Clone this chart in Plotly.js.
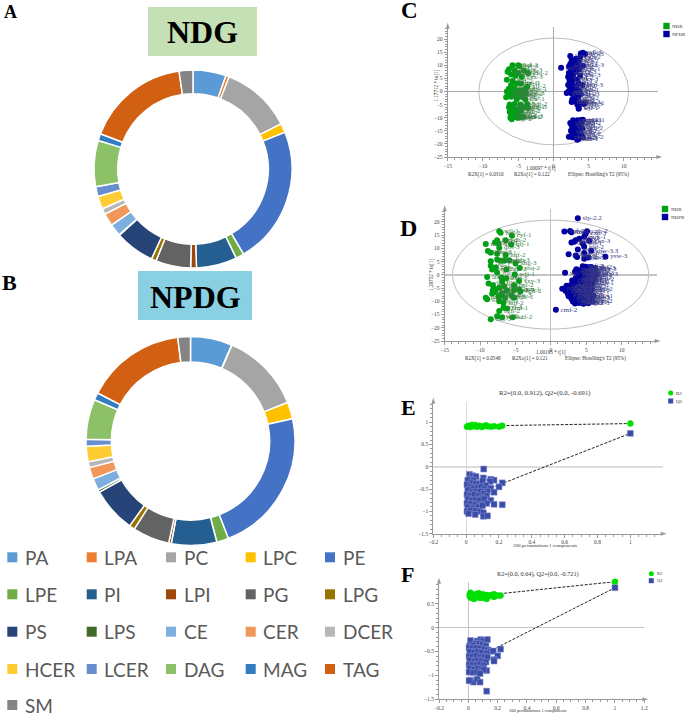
<!DOCTYPE html>
<html>
<head>
<meta charset="utf-8">
<script src="https://cdn.plot.ly/plotly-3.0.1.min.js"></script>
<style>html,body{margin:0;padding:0;background:#fff}</style>
</head>
<body>
<div id="chart" style="width:685px;height:715px"></div>
<script>
// lipid classes, share of each in the two donuts
const lipidClasses = ['PA','LPA','PC','LPC','PE','LPE','PI','LPI','PG','LPG','PS','LPS','CE','CER','DCER','HCER','LCER','DAG','MAG','TAG','SM'];
const lipidColors = ['#5B9BD5','#ED7D31','#A5A5A5','#FFC000','#4472C4','#70AD47','#255E91','#9E480E','#636363','#997300','#264478','#43682B','#7CAFDD','#F1975A','#B7B7B7','#FFCD33','#698ED0','#8CC168','#327DC2','#D26012','#848484'];
const ndgValues = [5.4,0.55,11.5,1.5,22.5,1.35,6.6,0.95,5.7,0.8,6.45,0.08,2.0,2.05,0.95,2.1,1.6,7.5,1.15,16.95,2.25];
const npdgValues = [6.45,0.05,12.5,2.6,22.5,1.85,7.0,0.4,5.7,0.85,6.95,0.4,1.85,1.8,0.9,2.4,1.05,6.2,1.15,15.45,1.95];

// OPLS-DA scores, [t1, to1, optional readable label]
const scoresC_NDR = [[-5.8,10],[-5,10],[-4.8,9.7],[-6.3,8.5],[-6.5,7.5],[-5.5,8],[-4.2,8,'qsj-3'],[-3.6,7],[-5,7],[-6,6.5],[-5.4,6],[-4.5,5.5],[-6.6,4.5],[-5.8,4],[-4.6,3],[-5.2,3],[-6,2.5],[-3.7,1.8,'xjf-2'],[-4,1],[-6.3,1],[-5.5,1],[-4.8,0.5],[-6.6,0],[-5.8,-0.3],[-5,-0.5],[-4.3,-1],[-3.9,-0.7],[-6.4,-1],[-5.4,-1.5],[-6.7,-2.2],[-6,-2],[-4.6,-2],[-5.2,-3],[-4,-3],[-6.2,-5],[-5.5,-4.8],[-4.7,-5],[-3.7,-4.8],[-3.6,-6.2],[-4.2,-6],[-6.3,-6],[-5.7,-6.5],[-5,-6.8],[-4.6,-7.5],[-6.2,-7.8],[-5.5,-8],[-5,-8.5],[-6,-9],[-6.1,-10],[-5.9,-10.6],[-5.1,-10],[-4.8,-9.8],[-4.5,-9.8],[-4.2,-9.6,'lya-3'],[-5.5,-9.5]];
const scoresC_NPDR = [[4.2,14.8],[3.9,14.5],[4.5,14.3],[2.4,13.5],[3.8,13],[3.2,12.5],[2.6,12],[3.6,11.5],[2.9,11],[2.4,10.5],[3.5,10],[4.2,9.8],[2.2,9.5],[1.1,9],[3,9],[3.7,8.5],[2.5,8],[3.2,7.5],[2.2,7],[2.8,6.5],[3.8,6],[2.1,5.5],[2.9,5],[3.4,4.5],[2.3,4],[2.7,3],[3.6,3],[2.1,2.5],[3,2],[4.1,2.5],[2.4,1.5],[3.3,1],[2.8,0.5],[3.7,0.3],[2.2,0.2],[1.9,-0.6],[2.6,-0.8],[3.3,-1],[3.9,-1],[3,-2],[3.5,-2.5],[2.9,-3.2],[2.6,-4],[3.1,-3.8],[3.8,-4.2],[4.5,-4.4],[3.4,-5],[3.6,-6.2],[3.6,-6.6],[2.7,-3],[4.3,-4.8],
  [2.8,-11],[3.4,-11],[3.9,-10.9],[4.2,-10.8],[2.4,-12],[3,-12],[3.6,-11.8],[4,-12],[2.6,-13],[3.3,-13],[3.9,-13.2],[2.8,-14],[3.4,-14.3],[4.1,-14.2],[2.5,-15],[3.1,-15.3],[3.8,-15.5],[2.7,-16],[3.3,-16.5],[4,-16.5],[2.2,-17.3],[2.7,-17.5],[3.2,-17.8],[3.6,-18],[3.4,-18.4],[4.2,-17.5]];
const scoresD_NDR = [[-7.3,16.5],[-7.1,15.9],[-5.5,14.8,'cyf-1'],[-7.6,13.1],[-6.4,13.1],[-5.6,11.5,'qfj-1'],[-9.2,11.7],[-7.9,12.2],[-7.3,10.3],[-7.4,11.9],[-8.9,9],[-8.5,8.4],[-7.6,8],[-6.4,7.4],[-8.5,5.2],[-7.6,5.8],[-7.1,5.3],[-5.9,5.5],[-6.6,5.3],[-5,4.4,'xhg-3'],[-4.4,2.6,'sbq-2'],[-8.5,3.5],[-8.3,2],[-7.8,2.8],[-7.6,0.9],[-6.3,2],[-5.1,0.1,'wfj-1'],[-9,-0.8],[-7,-1],[-6.3,-1.3],[-4.5,-2.3,'xxy-3'],[-8.8,-3.3],[-8.2,-3.9],[-6.9,-2.6],[-5.2,-3.9],[-7.8,-5.4],[-8.2,-5.8],[-6.6,-4.3],[-7.3,-4.9],[-4.5,-5.5],[-4.3,-6.2],[-5.2,-5.8],[-8.3,-7.1],[-7.4,-8.3],[-5.6,-7.7],[-5.2,-8.6],[-9.2,-8.6],[-9,-9.2],[-7.3,-10],[-6.7,-10.6],[-6.7,-12.4],[-6.2,-12.7],[-7.3,-13.7],[-7.6,-15.6],[-6.9,-16],[-5.4,-16,'kcf-2'],[-8.5,-16.8],[-7.9,-6.6],[-6.9,-6.9],[-6.2,-6],[-7.1,-7.7],[-6.5,-8.6]];
const scoresD_NPDR = [[3.8,21.4,'slp-2.2'],[1.9,16.4],[2.7,16.6],[2.9,16.1],[5.1,16.5],[4.9,15.6],[4.7,14.4],[4,13.7],[3.5,13.1],[2.9,12.2],[3.3,12.5],[5.4,12.9],[4.5,11.9],[4.7,10.6],[3.8,9.6],[5.7,9.1,'shw-3.3'],[4.7,8.3],[2.5,7.8],[3.5,7.3],[3.7,6.8],[4.7,6.1],[5.3,6.6],[7.7,6.9,'ysw-3'],[0.7,-13.2,'cmf-2'],[2,0.8],
  [4.5,3.3],[4.9,3.1],[5.3,2.9],[5.7,3],[6.2,2.6],[3.6,2.1],[4.1,1.8],[4.6,2.2],[5.1,2],[5.6,1.7],[6.3,2.1],[3.4,1.2],[3.9,0.8],[4.4,1.1],[5,0.9],[5.5,1.2],[6,0.7],[3.8,-0.1],[4.3,0.2],[4.8,-0.2],[5.4,0.1],[5.9,-0.3],[6.5,0.2],[3.5,-1.2],[4.1,-0.9],[4.6,-1.1],[5.2,-1.3],[5.7,-0.8],[3,-2.1],[3.7,-1.8],[4.4,-2.2],[5,-1.9],[5.6,-2.3],[6.2,-1.8],[3.2,-3.1],[3.9,-2.8],[4.7,-3.2],[5.3,-2.9],[5.9,-3.3],[2.2,-4.1],[2.8,-3.8],[3.5,-4.2],[4.2,-3.9],[4.9,-4.3],[5.5,-4],[1.6,-5.2],[2.4,-4.9],[3.1,-5.3],[3.8,-5],[4.5,-5.2],[5.2,-4.9],[5.8,-5.3],[2.1,-6.1],[2.8,-5.8],[3.5,-6.2],[4.3,-6],[5,-6.2],[5.6,-5.9],[2.4,-7.1],[3.1,-6.9],[3.9,-7.2],[4.6,-7],[5.3,-7.3],[2.5,-8.1],[3.2,-7.8],[4,-8.2],[4.7,-7.9],[5.4,-8.3],[6,-7.9],[2.9,-9],[3.6,-9.2],[4.3,-8.9],[5,-9.2],[5.7,-8.9],[3.1,-10.1],[3.8,-9.9],[4.5,-10.2],[5.2,-9.9],[5.9,-10.1],[3.4,-10.8],[4,-10.6],[4.6,-10.9],[5.3,-10.7]];
const sampleCodes = ['wjl','hqf','syj','lzm','cgh','zxh','mrk','yfq','dbs','tjw','pnl','gkx'];

// permutation tests
const permE_R2 = [[0.005,0.9],[0.015,0.92],[0.025,0.89],[0.035,0.94],[0.045,0.91],[0.055,0.94],[0.065,0.9],[0.08,0.92],[0.095,0.89],[0.105,0.91],[0.12,0.93],[0.13,0.91],[0.15,0.9],[0.17,0.91],[0.2,0.9],[0.22,0.92],[1,0.97]];
const permE_Q2 = [[0.107,-0.05],[0.02,-0.17],[0.04,-0.2],[0.06,-0.22],[0.105,-0.25],[0.025,-0.27],[0.045,-0.3],[0.15,-0.28],[0.17,-0.3],[0.145,-0.33],[0.22,-0.36],[0.01,-0.3],[0.03,-0.36],[0.06,-0.37],[0.08,-0.38],[0.1,-0.32],[0.2,-0.45],[0.12,-0.42],[0.15,-0.48],[0.005,-0.4],[0.025,-0.45],[0.045,-0.48],[0.07,-0.47],[0.09,-0.45],[0.11,-0.5],[0.17,-0.57],[0.01,-0.52],[0.035,-0.57],[0.06,-0.55],[0.085,-0.55],[0.13,-0.55],[0.105,-0.6],[0.005,-0.62],[0.025,-0.65],[0.05,-0.62],[0.075,-0.65],[0.125,-0.65],[0.095,-0.7],[0.15,-0.75],[0.01,-0.72],[0.035,-0.75],[0.06,-0.73],[0.08,-0.75],[0.11,-0.72],[0.005,-0.82],[0.03,-0.82],[0.055,-0.85],[0.09,-0.85],[0.125,-0.82],[0.17,-0.84],[0.22,-0.85],[0.01,-0.9],[0.04,-0.93],[0.075,-0.9],[0.1,-0.87],[0.005,-1.0],[0.025,-0.98],[0.06,-0.98],[0.085,-1.0],[0.105,-1.03],[0.015,-1.05],[0.055,-1.07],[0.105,-1.11],[0.13,-1.1],[1,0.75]];
const permF_R2 = [[0.015,0.73],[0.01,0.65],[0.02,0.62],[0.03,0.68],[0.04,0.6],[0.05,0.7],[0.06,0.64],[0.07,0.72],[0.08,0.62],[0.09,0.68],[0.1,0.7],[0.105,0.62],[0.12,0.66],[0.125,0.6],[0.14,0.66],[0.155,0.68],[0.175,0.64],[0.175,0.7],[0.2,0.67],[0.22,0.67],[0.01,0.7],[0.04,0.66],[0.07,0.66],[0.1,0.65],[0.125,0.68],[1,0.96]];
const permF_Q2 = [[0.015,-0.27],[0.06,-0.28],[0.085,-0.25],[0.1,-0.28],[0.13,-0.25],[0.05,-0.33],[0.075,-0.33],[0.01,-0.38],[0.03,-0.37],[0.095,-0.36],[0.12,-0.38],[0.005,-0.42],[0.03,-0.43],[0.055,-0.42],[0.08,-0.43],[0.11,-0.45],[0.135,-0.47],[0.15,-0.5],[0.17,-0.49],[0.22,-0.45],[0.01,-0.5],[0.04,-0.52],[0.065,-0.5],[0.09,-0.52],[0.125,-0.54],[0.2,-0.59],[0.175,-0.67],[0.175,-0.7],[0.005,-0.6],[0.03,-0.6],[0.055,-0.58],[0.08,-0.62],[0.11,-0.6],[0.13,-0.62],[0.01,-0.68],[0.04,-0.7],[0.065,-0.68],[0.09,-0.7],[0.12,-0.72],[0.005,-0.78],[0.03,-0.77],[0.055,-0.78],[0.08,-0.76],[0.105,-0.79],[0.01,-0.85],[0.04,-0.87],[0.065,-0.85],[0.09,-0.85],[0.125,-0.9],[0.105,-0.88],[0.005,-0.93],[0.035,-0.94],[0.06,-0.93],[0.08,-0.96],[0.015,-1.1],[0.035,-1.14],[0.06,-1.08],[0.08,-1.14],[0.005,-1.11],[0.125,-1.33],[1,0.835]];
// regression lines: intercept from the panel title to the unpermuted model
const lineE_R2 = [[0,0.912],[1,0.97]];
const lineE_Q2 = [[0,-0.691],[1,0.75]];
const lineF_R2 = [[0,0.64],[1,0.96]];
const lineF_Q2 = [[0,-0.721],[1,0.835]];

const W = 685, H = 715;
const px = v => v / W;
const py = v => 1 - v / H;
const SERIF = '"Liberation Serif", serif';
const AXIS_GREY = '#9a9a9a';

const traces = [];
const shapes = [];
const annotations = [];
const layout = {
    width: W, height: H, margin: {l: 0, r: 0, t: 0, b: 0},
    paper_bgcolor: '#fff', plot_bgcolor: '#fff', showlegend: false,
    shapes: shapes, annotations: annotations
};

function note(x, y, text, size, opts) {
    annotations.push(Object.assign({
        xref: 'paper', yref: 'paper', x: px(x), y: py(y), text: text, showarrow: false,
        xanchor: 'center', yanchor: 'middle', borderpad: 0,
        font: {family: SERIF, size: size, color: '#333'}
    }, opts || {}));
}

function addDonut(values, cx, cy, r, hole) {
    traces.push({
        type: 'pie', labels: lipidClasses, values: values, sort: false, direction: 'clockwise',
        rotation: 0, hole: hole, textinfo: 'none', hoverinfo: 'label+percent',
        marker: {colors: lipidColors, line: {color: '#fff', width: 1.5}},
        domain: {x: [px(cx - r), px(cx + r)], y: [py(cy + r), py(cy - r)]}
    });
}

function addBanner(x0, x1, y0, y1, color, text, size) {
    shapes.push({type: 'rect', xref: 'paper', yref: 'paper', x0: px(x0), x1: px(x1), y0: py(y1), y1: py(y0), fillcolor: color, line: {width: 0}, layer: 'below'});
    note((x0 + x1) / 2, (y0 + y1) / 2 + 1, '<b>' + text + '</b>', size, {font: {family: SERIF, size: size, color: '#000'}});
}

// axes go in pixel boxes so each panel sits where the reference has it
function addAxes(id, box, xr, yr, xt, yt, zeroY) {
    const sfx = id === 1 ? '' : String(id);
    const tickfont = {family: SERIF, size: 5.5, color: '#444'};
    const common = {
        showgrid: false, showline: true, linecolor: AXIS_GREY, linewidth: 1,
        ticks: 'outside', ticklen: 3, tickcolor: AXIS_GREY, tickfont: tickfont,
        zeroline: true, zerolinecolor: zeroY.color, fixedrange: true
    };
    layout['xaxis' + sfx] = Object.assign({}, common, {
        domain: [px(box.l), px(box.r)], range: xr, anchor: 'y' + sfx,
        tick0: xt.tick0, dtick: xt.dtick, minor: {ticks: 'outside', ticklen: 2, dtick: xt.minor, tickcolor: AXIS_GREY},
        zerolinewidth: 1
    });
    layout['yaxis' + sfx] = Object.assign({}, common, {
        domain: [py(box.b), py(box.t)], range: yr, anchor: 'x' + sfx,
        tick0: yt.tick0, dtick: yt.dtick, minor: {ticks: 'outside', ticklen: 2, dtick: yt.minor, tickcolor: AXIS_GREY},
        zerolinewidth: zeroY.width
    });
    // small arrowheads on the axis ends
    const a = 2;
    shapes.push({type: 'path', xref: 'paper', yref: 'paper', fillcolor: AXIS_GREY, line: {width: 0},
        path: `M${px(box.r + 4)},${py(box.b)} L${px(box.r - 2)},${py(box.b - a)} L${px(box.r - 2)},${py(box.b + a)} Z`});
    shapes.push({type: 'path', xref: 'paper', yref: 'paper', fillcolor: AXIS_GREY, line: {width: 0},
        path: `M${px(box.l)},${py(box.t - 4)} L${px(box.l - a)},${py(box.t + 2)} L${px(box.l + a)},${py(box.t + 2)} Z`});
}

function labelOf(p, i) {
    return p[2] || sampleCodes[i % sampleCodes.length] + '-' + (i % 3 + 1);
}

function addScores(points, id, color, textColor) {
    const sfx = id === 1 ? '' : String(id);
    traces.push({
        type: 'scatter', mode: 'markers+text', xaxis: 'x' + sfx, yaxis: 'y' + sfx,
        x: points.map(p => p[0]), y: points.map(p => p[1]), text: points.map(labelOf),
        textposition: 'middle right', textfont: {family: SERIF, size: 7, color: textColor},
        marker: {color: color, size: 6, symbol: 'circle'}, cliponaxis: false, hoverinfo: 'x+y+text'
    });
}

function addEllipse(id, rx, ry) {
    const sfx = id === 1 ? '' : String(id);
    shapes.push({type: 'circle', xref: 'x' + sfx, yref: 'y' + sfx, x0: -rx[0], x1: rx[1], y0: -ry[0], y1: ry[1], line: {color: '#bdbdbd', width: 1}, layer: 'below'});
}

function addPerm(id, line, pts, color, symbol, edge) {
    const sfx = id === 1 ? '' : String(id);
    traces.push({type: 'scatter', mode: 'lines', xaxis: 'x' + sfx, yaxis: 'y' + sfx,
        x: line.map(p => p[0]), y: line.map(p => p[1]), line: {color: '#222', width: 1, dash: '3px,1.5px'}, hoverinfo: 'skip'});
    traces.push({type: 'scatter', mode: 'markers', xaxis: 'x' + sfx, yaxis: 'y' + sfx,
        x: pts.map(p => p[0]), y: pts.map(p => p[1]), cliponaxis: false,
        marker: {color: color, size: 6, symbol: symbol, line: {color: edge, width: 0.5}}});
}

function legendMark(kind, x, y, s, color) {
    shapes.push({type: kind, xref: 'paper', yref: 'paper', x0: px(x - s), x1: px(x + s), y0: py(y + s), y1: py(y - s), fillcolor: color, line: {width: 0}});
}

// donuts and their banners
addDonut(ndgValues, 193, 169, 99, 0.76);
addDonut(npdgValues, 190.5, 441, 104.5, 0.757);
addBanner(148, 257, 7, 56, '#C5E0B4', 'NDG', 32);
addBanner(138, 252, 271, 320, '#8AD0E3', 'NPDG', 32);

// shared legend of the lipid classes, five to a row
const legendColX = [7.3, 86.7, 166, 245.7, 325];
const legendRowY = [557.3, 594.3, 631.7, 669, 705];
lipidClasses.forEach((name, i) => {
    const cx = legendColX[i % 5], cy = legendRowY[Math.floor(i / 5)];
    shapes.push({type: 'rect', xref: 'paper', yref: 'paper', x0: px(cx), x1: px(cx + 10), y0: py(cy + 5), y1: py(cy - 5), fillcolor: lipidColors[i], line: {width: 0}});
    note(cx + 16.5, cy, name, 19, {xanchor: 'left', font: {family: 'Lato, sans-serif', size: 19, color: '#595959'}});
});

// panel C
addAxes(1, {l: 447.7, r: 658.3, t: 26.7, b: 157}, [-15, 14.9], [-25, 24.7],
    {tick0: -15, dtick: 5, minor: 1}, {tick0: -25, dtick: 5, minor: 1}, {color: '#aaa', width: 1});
addEllipse(1, [10.6, 10.7], [20.4, 20.4]);
addScores(scoresC_NDR, 1, '#00A014', '#3d7f45');
addScores(scoresC_NPDR, 1, '#0000A0', '#3c3c86');
note(541, 168, '1.00097 * t[1]', 5.2);
note(435.7, 86, '1.17712 * to[1]', 5.2, {textangle: -90});
note(486, 174, 'R2X[1] = 0.0310', 5.2);
note(531.7, 174, 'R2Xo[1] = 0.122', 5.2);
note(598, 174, "Ellipse: Hotelling's T2 (95%)", 5.2);
legendMark('rect', 666.5, 26, 3.2, '#00A014');
legendMark('rect', 666.5, 34, 3.2, '#0000A0');
note(671, 26, 'NDR', 5, {xanchor: 'left'});
note(671, 34, 'NPDR', 5, {xanchor: 'left'});

// panel D
addAxes(2, {l: 444.7, r: 656.7, t: 209.3, b: 341}, [-15, 14.94], [-25, 24.8],
    {tick0: -15, dtick: 5, minor: 1}, {tick0: -25, dtick: 5, minor: 1}, {color: '#c4c4c4', width: 1.5});
addEllipse(2, [13.9, 13.8], [20.5, 20.7]);
addScores(scoresD_NDR, 2, '#00A014', '#3d7f45');
addScores(scoresD_NPDR, 2, '#0000A0', '#3c3c86');
note(551, 352, '1.00195 * t[1]', 5.2);
note(431, 275, '1.28752 * to[1]', 5.2, {textangle: -90});
note(483, 358, 'R2X[1] = 0.0548', 5.2);
note(530, 358, 'R2Xo[1] = 0.121', 5.2);
note(595, 358, "Ellipse: Hotelling's T2 (95%)", 5.2);
legendMark('rect', 665, 209, 3.2, '#00A014');
legendMark('rect', 665, 217, 3.2, '#0000A0');
note(669.5, 209, 'NDR', 5, {xanchor: 'left'});
note(669.5, 217, 'NDPR', 5, {xanchor: 'left'});

// panel E
addAxes(3, {l: 433.3, r: 662.7, t: 401.7, b: 533.7}, [-0.2, 1.197], [-1.5, 1.46],
    {tick0: -0.2, dtick: 0.2, minor: 0.05}, {tick0: -1.5, dtick: 0.5, minor: 0.1}, {color: '#dcdcdc', width: 2});
addPerm(3, lineE_Q2, permE_Q2, '#3A4CA8', 'square', '#8a96d4');
addPerm(3, lineE_R2, permE_R2, '#00E000', 'circle', '#00E000');
note(545, 393, 'R2=(0.0, 0.912), Q2=(0.0, -0.691)', 6.7);
note(545, 545.7, '200 permutations 1 components', 5);
legendMark('circle', 670.7, 393, 2.5, '#00E000');
legendMark('rect', 670.7, 401, 2.5, '#3A4CA8');
note(675, 393, 'R2', 5, {xanchor: 'left'});
note(675, 401, 'Q2', 5, {xanchor: 'left'});

// panel F
addAxes(4, {l: 439, r: 644.3, t: 581.7, b: 699.3}, [-0.2, 1.2], [-1.5, 0.96],
    {tick0: -0.2, dtick: 0.2, minor: 0.05}, {tick0: -1.5, dtick: 0.5, minor: 0.1}, {color: '#c4c4c4', width: 1});
addPerm(4, lineF_Q2, permF_Q2, '#3A4CA8', 'square', '#8a96d4');
addPerm(4, lineF_R2, permF_R2, '#00E000', 'circle', '#00E000');
note(538, 573.7, 'R2=(0.0, 0.64), Q2=(0.0, -0.721)', 6.2);
note(538, 710, '200 permutations 1 components', 4.5);
legendMark('circle', 651.3, 573.7, 2.5, '#00E000');
legendMark('rect', 651.3, 580.7, 2.5, '#3A4CA8');
note(655.5, 573.7, 'R2', 4.5, {xanchor: 'left'});
note(655.5, 580.7, 'Q2', 4.5, {xanchor: 'left'});

// panel letters
const panelLetters = ['A', 'B', 'C', 'D', 'E', 'F'];
const letterX = [10, 9, 409, 408.5, 408, 407];
const letterY = [12, 282, 11, 228, 407, 574];
const letterSize = [18, 22, 23, 24, 22, 22];
panelLetters.forEach((l, i) => {
    note(letterX[i], letterY[i], '<b>' + l + '</b>', letterSize[i], {font: {family: SERIF, size: letterSize[i], color: '#000'}});
});

Plotly.newPlot('chart', traces, layout, {displayModeBar: false, staticPlot: true});
</script>
</body>
</html>
